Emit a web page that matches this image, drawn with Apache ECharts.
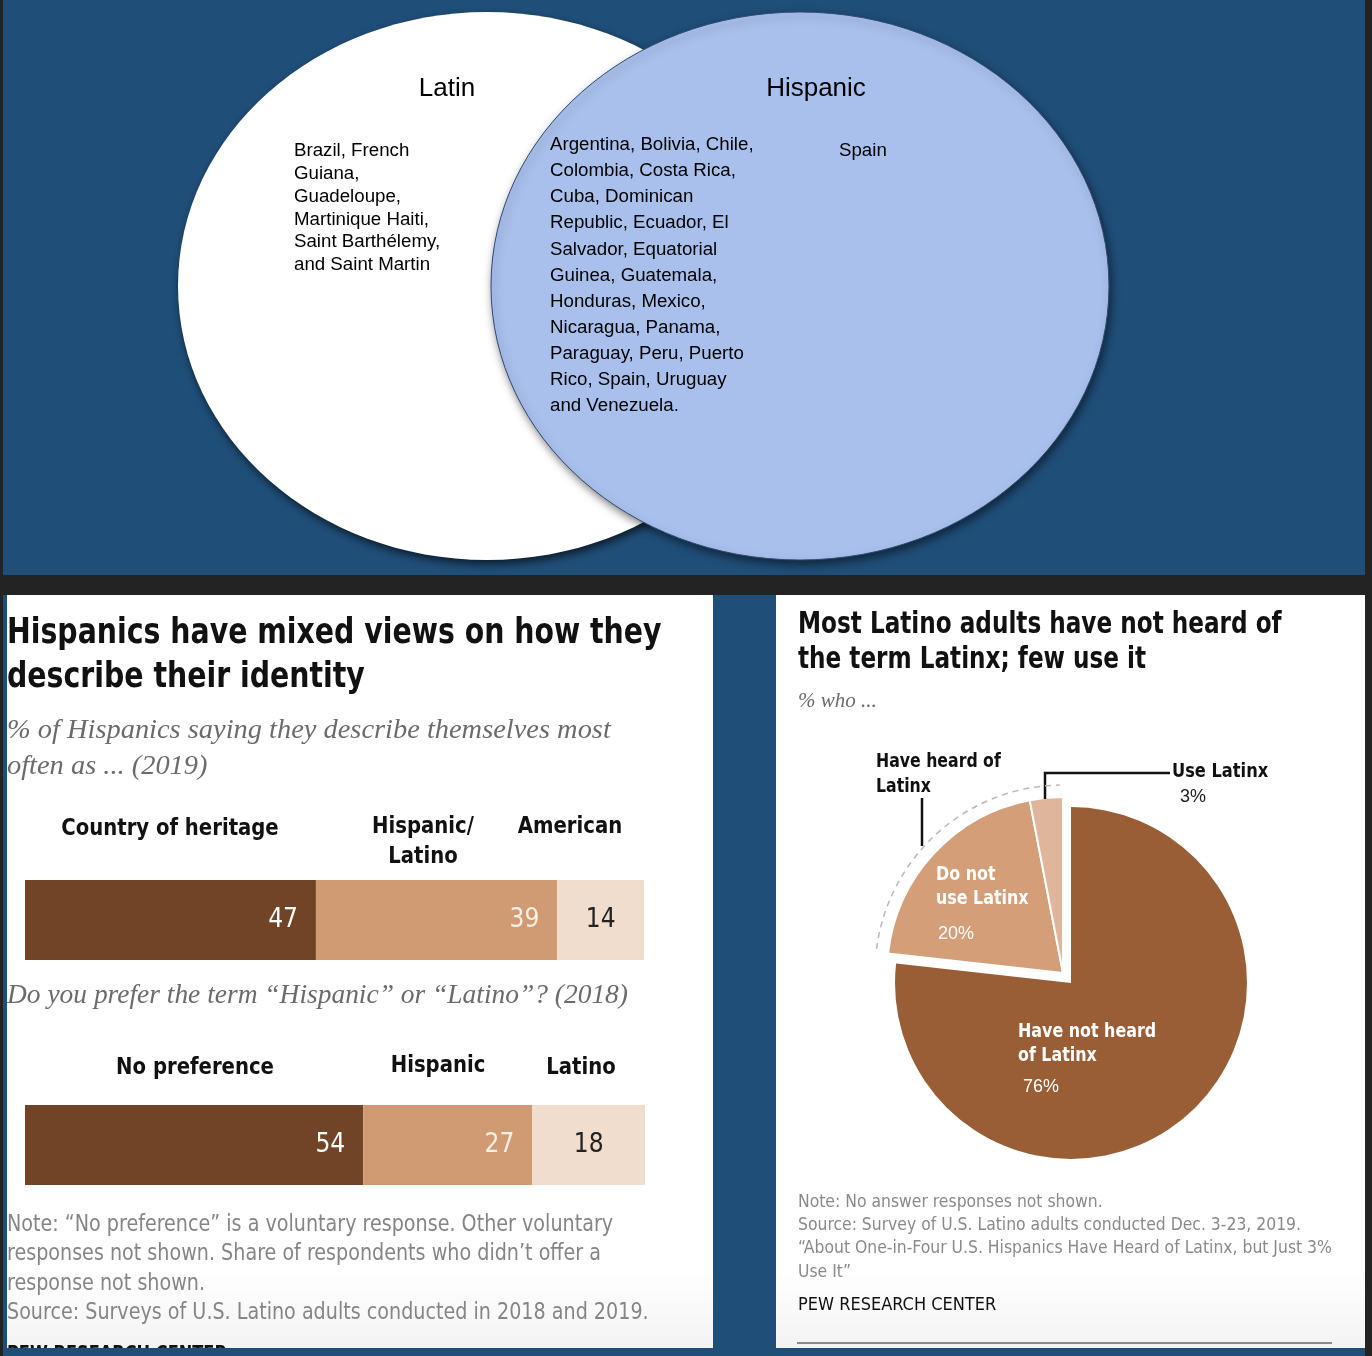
<!DOCTYPE html>
<html>
<head>
<meta charset="utf-8">
<script src="https://cdn.jsdelivr.net/npm/echarts@6/dist/echarts.min.js"></script>
<style>
html,body{margin:0;padding:0;background:#1f4e79;}
#chart{width:1372px;height:1356px;}
</style>
</head>
<body>
<div id="chart"></div>
<script>
// ---------- data ----------
const vennSets = ['Latin', 'Hispanic'];
const latinOnly = ['Brazil, French', 'Guiana,', 'Guadeloupe,', 'Martinique Haiti,', 'Saint Barthélemy,', 'and Saint Martin'];
const latinAndHispanic = ['Argentina, Bolivia, Chile,', 'Colombia, Costa Rica,', 'Cuba, Dominican', 'Republic, Ecuador, El', 'Salvador, Equatorial', 'Guinea, Guatemala,', 'Honduras, Mexico,', 'Nicaragua, Panama,', 'Paraguay, Peru, Puerto', 'Rico, Spain, Uruguay', 'and Venezuela.'];
const hispanicOnly = ['Spain'];

const identityCats = ['Country of heritage', 'Hispanic/\nLatino', 'American'];
const identityVals = [47, 39, 14];
const termCats = ['No preference', 'Hispanic', 'Latino'];
const termVals = [54, 27, 18];

const latinxCats = ['Have not heard\nof Latinx', 'Do not\nuse Latinx', 'Use Latinx'];
const latinxVals = [76, 20, 3];
const heardLabel = 'Have heard of\nLatinx';

// ---------- style ----------
const NARROW = '"DejaVu Sans Condensed", "Liberation Sans Narrow", sans-serif';
const SERIF = '"Liberation Serif", "DejaVu Serif", serif';
const SANS = '"Liberation Sans", Arial, sans-serif';
const BAR_COLORS = ['#714428', '#d09a72', '#f1ddcd'];
const BAR_LABEL_COLORS = ['#ffffff', '#fbefe6', '#222222'];
const PIE_COLORS = ['#995e36', '#d39e78', '#dfb69b'];
const sum = a => a.reduce((s, v) => s + v, 0);

function txt(text, x, y, o) {
  o = o || {};
  return {
    type: 'text', z: o.z || 20, x: x, y: y, scaleX: o.sx || 1, scaleY: 1,
    style: {
      text: text, x: 0, y: 0,
      fontSize: o.size || 18, fontFamily: o.family || SANS,
      fontWeight: o.weight || 'normal', fontStyle: o.style || 'normal',
      fill: o.color || '#000', textAlign: o.align || 'left',
      textVerticalAlign: o.valign || 'middle', lineHeight: o.lh
    }
  };
}
function block(lines, x, yFirst, lh, o) {
  o = Object.assign({}, o || {}, { valign: 'top', lh: lh });
  return txt(lines.join('\n'), x, yFirst - lh / 2, o);
}

const graphic = [];
// backgrounds
graphic.push({ type: 'rect', z: 0, shape: { x: 0, y: 0, width: 1372, height: 1356 }, style: { fill: '#1f4e79' } });
graphic.push({ type: 'rect', z: 0, shape: { x: 0, y: 575, width: 1372, height: 20 }, style: { fill: '#232323' } });
graphic.push({ type: 'rect', z: 0, shape: { x: 0, y: 0, width: 3, height: 1356 }, style: { fill: '#232323' } });
graphic.push({ type: 'rect', z: 0, shape: { x: 1365, y: 0, width: 7, height: 1356 }, style: { fill: '#232323' } });
const panelFill = {
  type: 'linear', x: 0, y: 0, x2: 0, y2: 1,
  colorStops: [{ offset: 0, color: '#ffffff' }, { offset: 0.9, color: '#ffffff' }, { offset: 1, color: '#f3f3f3' }]
};
graphic.push({ type: 'rect', z: 0, shape: { x: 7, y: 595, width: 706, height: 753 }, style: { fill: panelFill } });
graphic.push({ type: 'rect', z: 0, shape: { x: 776, y: 595, width: 589, height: 753 }, style: { fill: panelFill } });

// Venn diagram
graphic.push({ type: 'ellipse', z: 1, shape: { cx: 487, cy: 286, rx: 309, ry: 274 },
  style: { fill: '#ffffff', shadowBlur: 8, shadowColor: 'rgba(0,0,0,0.65)', shadowOffsetX: 2, shadowOffsetY: 4 } });
graphic.push({ type: 'ellipse', z: 2, shape: { cx: 800, cy: 286, rx: 309, ry: 274 },
  style: { fill: '#a9c0ec', stroke: '#2b4b73', lineWidth: 1, shadowBlur: 8, shadowColor: 'rgba(0,0,0,0.5)', shadowOffsetX: 2, shadowOffsetY: 4 } });
graphic.push(txt(vennSets[0], 447, 89, { size: 26, align: 'center' }));
graphic.push(txt(vennSets[1], 816, 89, { size: 26, align: 'center' }));
graphic.push(block(latinOnly, 294, 151, 22.8, { size: 18.7 }));
graphic.push(block(latinAndHispanic, 550, 145, 26.1, { size: 18.7 }));
graphic.push(block(hispanicOnly, 839, 151, 22.8, { size: 18.7 }));

// Left panel texts
graphic.push(block(['Hispanics have mixed views on how they', 'describe their identity'], 7, 634, 44, { size: 36, family: NARROW, weight: 'bold', color: '#111', sx: 0.876 }));
graphic.push(block(['% of Hispanics saying they describe themselves most', 'often as ... (2019)'], 7, 731, 36, { size: 28, family: SERIF, style: 'italic', color: '#6b6b6b', sx: 1.015 }));
const idHeadX = [170, 423, 570];
const idHeadY = [829, 842, 827];
identityCats.forEach((c, i) => {
  graphic.push(txt(c, idHeadX[i], idHeadY[i], { size: 23, family: NARROW, weight: 'bold', align: 'center', color: '#111', lh: 30, sx: 0.95 }));
});
graphic.push(txt('Do you prefer the term “Hispanic” or “Latino”? (2018)', 7, 996, { size: 28, family: SERIF, style: 'italic', color: '#6b6b6b', sx: 0.98 }));
const termHeadX = [195, 438, 581];
const termHeadY = [1068, 1066, 1068];
termCats.forEach((c, i) => {
  graphic.push(txt(c, termHeadX[i], termHeadY[i], { size: 23, family: NARROW, weight: 'bold', align: 'center', color: '#111', sx: 0.95 }));
});
graphic.push(block(['Note: “No preference” is a voluntary response. Other voluntary',
  'responses not shown. Share of respondents who didn’t offer a',
  'response not shown.',
  'Source: Surveys of U.S. Latino adults conducted in 2018 and 2019.'], 7, 1225, 29.5, { size: 23, family: NARROW, color: '#858585', sx: 0.925 }));
graphic.push(txt('PEW RESEARCH CENTER', 7, 1344, { size: 20, family: NARROW, weight: 'bold', valign: 'top', color: '#111', z: 5, sx: 0.9 }));
// bottom strip (covers the cut-off line)
graphic.push({ type: 'rect', z: 30, shape: { x: 3, y: 1348, width: 1362, height: 8 }, style: { fill: '#1f4e79' } });

// Right panel texts
graphic.push(block(['Most Latino adults have not heard of', 'the term Latinx; few use it'], 798, 625, 35, { size: 30, family: NARROW, weight: 'bold', color: '#111', sx: 0.858 }));
graphic.push(txt('% who ...', 798, 701, { size: 21, family: SERIF, style: 'italic', color: '#6b6b6b' }));
graphic.push(block(heardLabel.split('\n'), 876, 762, 25, { size: 19, family: NARROW, weight: 'bold', color: '#111', sx: 0.92 }));
graphic.push(txt(latinxCats[2], 1172, 772, { size: 19, family: NARROW, weight: 'bold', color: '#111', sx: 0.95 }));
graphic.push(txt(latinxVals[2] + '%', 1180, 797, { size: 18, family: SANS, color: '#222' }));
graphic.push(block(latinxCats[1].split('\n'), 936, 875, 24, { size: 19, family: NARROW, weight: 'bold', color: '#ffffff', sx: 0.93 }));
graphic.push(txt(latinxVals[1] + '%', 938, 934, { size: 18, family: SANS, color: '#ffffff' }));
graphic.push(block(latinxCats[0].split('\n'), 1018, 1032, 24, { size: 19, family: NARROW, weight: 'bold', color: '#ffffff', sx: 0.93 }));
graphic.push(txt(latinxVals[0] + '%', 1023, 1087, { size: 18, family: SANS, color: '#ffffff' }));
graphic.push({ type: 'polyline', z: 20, shape: { points: [[922, 798], [922, 846]] }, style: { stroke: '#111', lineWidth: 2.5, fill: null } });
graphic.push({ type: 'polyline', z: 20, shape: { points: [[1045, 799], [1045, 773], [1170, 773]] }, style: { stroke: '#111', lineWidth: 2.5, fill: null } });
graphic.push(block(['Note: No answer responses not shown.',
  'Source: Survey of U.S. Latino adults conducted Dec. 3-23, 2019.',
  '“About One-in-Four U.S. Hispanics Have Heard of Latinx, but Just 3%',
  'Use It”'], 798, 1202, 23.3, { size: 18, family: NARROW, color: '#8a8a8a', sx: 0.965 }));
graphic.push(txt('PEW RESEARCH CENTER', 798, 1305, { size: 18, family: NARROW, color: '#111', sx: 1.0 }));

// dashed arc around the "heard of" group, derived from the data
const total = sum(latinxVals);
const heardStartDeg = 360 * latinxVals[0] / total + 1;
const heardEndDeg = 359;
const toRad = d => (d - 90) * Math.PI / 180;
graphic.push({ type: 'arc', z: 20, shape: { cx: 1063, cy: 973, r: 188, startAngle: toRad(heardStartDeg), endAngle: toRad(heardEndDeg), clockwise: true },
  style: { stroke: '#b8b8b8', lineWidth: 1.5, lineDash: [6, 5], fill: null } });

graphic.push({ type: 'line', z: 20, shape: { x1: 797, y1: 1343, x2: 1332, y2: 1343 }, style: { stroke: '#8a8a8a', lineWidth: 2 } });

// ---------- series ----------
const series = [];
identityVals.forEach((v, i) => {
  series.push({
    type: 'bar', xAxisIndex: 0, yAxisIndex: 0, stack: 'id', data: [v], barWidth: '100%', silent: true, z: 5,
    itemStyle: { color: BAR_COLORS[i] },
    label: { show: true, position: i < 2 ? 'insideRight' : 'inside', distance: 18, color: BAR_LABEL_COLORS[i], fontSize: 26, fontFamily: NARROW }
  });
});
termVals.forEach((v, i) => {
  series.push({
    type: 'bar', xAxisIndex: 1, yAxisIndex: 1, stack: 'term', data: [v], barWidth: '100%', silent: true, z: 5,
    itemStyle: { color: BAR_COLORS[i] },
    label: { show: true, position: i < 2 ? 'insideRight' : 'inside', distance: 18, color: BAR_LABEL_COLORS[i], fontSize: 26, fontFamily: NARROW }
  });
});
// pie: main slice, and the exploded "have heard" group
series.push({
  type: 'pie', center: [1071, 983], radius: 176, startAngle: 90, clockwise: true, silent: true, z: 5,
  label: { show: false }, labelLine: { show: false },
  data: latinxVals.map((v, i) => ({ value: v, name: latinxCats[i], itemStyle: { color: i === 0 ? PIE_COLORS[0] : 'rgba(0,0,0,0)' } }))
});
series.push({
  type: 'pie', center: [1063, 973], radius: 176, startAngle: 90, clockwise: true, silent: true, z: 6,
  label: { show: false }, labelLine: { show: false },
  data: latinxVals.map((v, i) => ({ value: v, name: latinxCats[i],
    itemStyle: i === 0 ? { color: 'rgba(0,0,0,0)', borderWidth: 0 } : { color: PIE_COLORS[i], borderColor: '#ffffff', borderWidth: 2 } }))
});

const option = {
  animation: false,
  grid: [
    { left: 25, top: 880, width: 619, height: 80 },
    { left: 25, top: 1105, width: 620, height: 80 }
  ],
  xAxis: [
    { gridIndex: 0, type: 'value', min: 0, max: sum(identityVals), show: false },
    { gridIndex: 1, type: 'value', min: 0, max: sum(termVals), show: false }
  ],
  yAxis: [
    { gridIndex: 0, type: 'category', data: ['2019'], show: false },
    { gridIndex: 1, type: 'category', data: ['2018'], show: false }
  ],
  graphic: graphic,
  series: series
};
const chart = echarts.init(document.getElementById('chart'), null, { renderer: 'canvas' });
chart.setOption(option);
</script>
</body>
</html>
